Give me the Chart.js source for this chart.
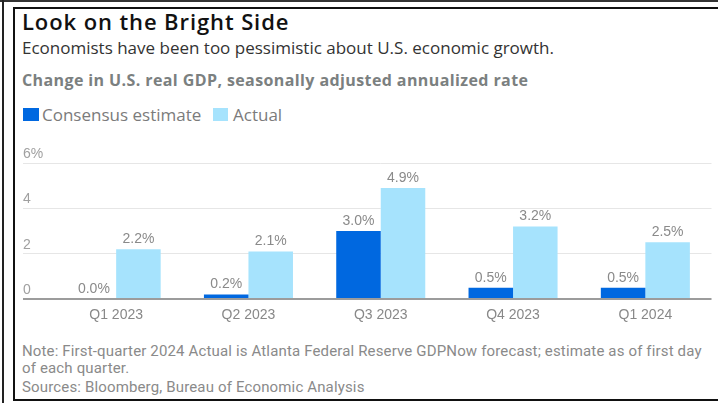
<!DOCTYPE html>
<html>
<head>
<meta charset="utf-8">
<title>Look on the Bright Side</title>
<script src="https://cdn.jsdelivr.net/npm/chart.js@4.4.1/dist/chart.umd.min.js"></script>
<style>
  html, body { margin: 0; padding: 0; background: #fff; }
  body { width: 718px; height: 403px; position: relative; overflow: hidden; }
  .abs { position: absolute; white-space: nowrap; }
  .frame-top { left: 0; top: 0; width: 718px; height: 2px; background: #333; }
  .frame-left { left: 2px; top: 0; width: 2px; height: 403px; background: #222; }
  .box { left: 13px; top: 7px; width: 720px; height: 390px; border: 2px solid #111; }
  .title { left: 22px; top: 6px; font: 600 22px "Open Sans", sans-serif; letter-spacing: 0.9px; color: #111; }
  .sub { left: 22px; top: 36px; font: 400 17px "Open Sans", sans-serif; color: #333; }
  .unit { left: 22px; top: 69px; font: 700 16px "Open Sans", sans-serif; letter-spacing: 0.4px; color: #7b8080; }
  .sw { top: 108px; height: 13px; }
  .leg { top: 103px; font: 400 17px "Open Sans", sans-serif; color: #7b7b7b; }
  .note { left: 22px; font: 400 15px Roboto, sans-serif; letter-spacing: 0.15px; color: #8a8a8a; }
  #chart { position: absolute; left: 0; top: 140px; }
</style>
</head>
<body>
<div class="abs frame-top"></div>
<div class="abs frame-left"></div>
<div class="abs box"></div>

<div class="abs title">Look on the Bright Side</div>
<div class="abs sub">Economists have been too pessimistic about U.S. economic growth.</div>
<div class="abs unit">Change in U.S. real GDP, seasonally adjusted annualized rate</div>

<div class="abs sw" style="left:23px; width:16px; background:#0068e0;"></div>
<div class="abs leg" style="left:42px;">Consensus estimate</div>
<div class="abs sw" style="left:213px; width:15px; background:#a6e3fd;"></div>
<div class="abs leg" style="left:233px;">Actual</div>

<canvas id="chart" width="718" height="190"></canvas>

<div class="abs note" style="top:342px;">Note: First-quarter 2024 Actual is Atlanta Federal Reserve GDPNow forecast; estimate as of first day</div>
<div class="abs note" style="top:359px;">of each quarter.</div>
<div class="abs note" style="top:378px;">Sources: Bloomberg, Bureau of Economic Analysis</div>

<script>
// quarterly real GDP growth, annualized %
const quarters = ["Q1 2023", "Q2 2023", "Q3 2023", "Q4 2023", "Q1 2024"];
const consensus = [0.0, 0.2, 3.0, 0.5, 0.5];
const actual = [2.2, 2.1, 4.9, 3.2, 2.5];
const yTicks = [0, 2, 4, 6];

const chartFont = "'Liberation Sans', Arial, sans-serif";

// value text above each bar
const valueLabels = {
    id: "valueLabels",
    afterDatasetsDraw: function (chart) {
        const ctx = chart.ctx;
        ctx.save();
        ctx.font = "14px " + chartFont;
        ctx.fillStyle = "#8a8a8a";
        ctx.textAlign = "center";
        ctx.textBaseline = "alphabetic";
        chart.data.datasets.forEach(function (ds, i) {
            chart.getDatasetMeta(i).data.forEach(function (bar, j) {
                ctx.fillText(ds.data[j].toFixed(1) + "%", bar.x, bar.y - 6);
            });
        });
        ctx.restore();
    }
};

new Chart(document.getElementById("chart"), {
    type: "bar",
    data: {
        labels: quarters,
        datasets: [
            {
                label: "Consensus estimate",
                data: consensus,
                backgroundColor: "#0068e0",
                categoryPercentage: 0.673,
                barPercentage: 1.0
            },
            {
                label: "Actual",
                data: actual,
                backgroundColor: "#a6e3fd",
                categoryPercentage: 0.673,
                barPercentage: 1.0
            }
        ]
    },
    options: {
        responsive: false,
        animation: false,
        devicePixelRatio: 1,
        layout: {
            padding: { left: 23, right: 6.5, top: 23, bottom: 0 }
        },
        scales: {
            x: {
                grid: { display: false, drawTicks: false },
                border: { display: false },
                ticks: {
                    color: "#888",
                    padding: 8,
                    font: { family: chartFont, size: 14 }
                },
                afterFit: function (scale) { scale.height = 31; }
            },
            y: {
                min: 0,
                max: 6,
                afterBuildTicks: function (scale) {
                    scale.ticks = yTicks.map(function (v) { return { value: v }; });
                },
                afterFit: function (scale) { scale.width = 27; },
                border: { display: false },
                grid: {
                    drawTicks: true,
                    tickLength: 27,
                    color: function (c) { return c.tick && c.tick.value === 0 ? "#9c9c9c" : "#e6e6e6"; },
                    lineWidth: function (c) { return c.tick && c.tick.value === 0 ? 2 : 1; }
                },
                ticks: {
                    crossAlign: "far",
                    labelOffset: -9,
                    padding: 0,
                    color: "#a0a0a0",
                    font: { family: chartFont, size: 14 },
                    callback: function (v) { return v === 6 ? "6%" : v; }
                }
            }
        },
        plugins: {
            legend: { display: false },
            tooltip: { enabled: false }
        }
    },
    plugins: [valueLabels]
});
</script>
</body>
</html>
